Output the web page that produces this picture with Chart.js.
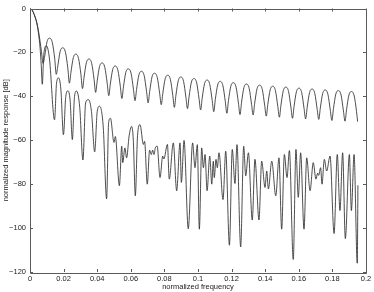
<!DOCTYPE html>
<html><head><meta charset="utf-8">
<script src="https://cdn.jsdelivr.net/npm/chart.js@4/dist/chart.umd.min.js"></script>
<style>html,body{margin:0;padding:0;background:#fff;overflow:hidden}</style>
</head><body>
<canvas id="c" width="374" height="292"></canvas>
<script>
const xTickValues = [0, 0.02, 0.04, 0.06, 0.08, 0.1, 0.12, 0.14, 0.16, 0.18, 0.2];
const yTickValues = [-120, -100, -80, -60, -40, -20, 0];
const xTitle = 'normalized frequency';
const yTitle = 'normalized magnitude response [dB]';

// upper curve (sidelobe arches)
const upperFreq = [
  0, 0.001, 0.002, 0.003, 0.004, 0.005, 0.006, 0.0068,
  0.00781, 0.00875, 0.01015, 0.01172, 0.01328, 0.01469,
  0.01563, 0.01656, 0.01797, 0.01953, 0.02109, 0.0225,
  0.02344, 0.02438, 0.02578, 0.02734, 0.02891, 0.03031,
  0.03125, 0.03219, 0.03359, 0.03516, 0.03672, 0.03813,
  0.03906, 0.04, 0.0414, 0.04297, 0.04453, 0.04594,
  0.04688, 0.04781, 0.04922, 0.05078, 0.05234, 0.05375,
  0.05469, 0.05563, 0.05703, 0.05859, 0.06016, 0.06156,
  0.0625, 0.06344, 0.06484, 0.06641, 0.06797, 0.06938,
  0.07031, 0.07125, 0.07265, 0.07422, 0.07578, 0.07719,
  0.07813, 0.07906, 0.08047, 0.08203, 0.08359, 0.085,
  0.08594, 0.08688, 0.08828, 0.08984, 0.09141, 0.09281,
  0.09375, 0.09469, 0.09609, 0.09766, 0.09922, 0.10063,
  0.10156, 0.1025, 0.1039, 0.10547, 0.10703, 0.10844,
  0.10938, 0.11031, 0.11172, 0.11328, 0.11484, 0.11625,
  0.11719, 0.11813, 0.11953, 0.12109, 0.12266, 0.12406,
  0.125, 0.12594, 0.12734, 0.12891, 0.13047, 0.13188,
  0.13281, 0.13375, 0.13515, 0.13672, 0.13828, 0.13969,
  0.14063, 0.14156, 0.14297, 0.14453, 0.14609, 0.1475,
  0.14844, 0.14938, 0.15078, 0.15234, 0.15391, 0.15531,
  0.15625, 0.15719, 0.15859, 0.16016, 0.16172, 0.16313,
  0.16406, 0.165, 0.1664, 0.16797, 0.16953, 0.17094,
  0.17188, 0.17281, 0.17422, 0.17578, 0.17734, 0.17875,
  0.17969, 0.18063, 0.18203, 0.18359, 0.18516, 0.18656,
  0.1875, 0.18844, 0.18984, 0.19141, 0.19297, 0.19438,
  0.195
];
const upperDb = [
  0, -0.5, -1.8, -3.8, -6.3, -10, -15, -19.5,
  -25, -21.7, -15.1, -13.5, -15.5, -22.7,
  -30, -26.1, -19.5, -17.9, -19.9, -27.1,
  -34, -29.0, -22.4, -20.8, -22.8, -30.0,
  -36.5, -31.2, -24.6, -23.0, -25.0, -32.2,
  -38.2, -33.0, -26.4, -24.8, -26.8, -34.0,
  -39.7, -34.4, -27.8, -26.2, -28.2, -35.4,
  -41, -35.7, -29.1, -27.5, -29.5, -36.7,
  -42, -36.8, -30.2, -28.6, -30.6, -37.8,
  -43, -37.7, -31.1, -29.5, -31.5, -38.7,
  -43.8, -38.6, -32.0, -30.4, -32.4, -39.6,
  -45, -39.4, -32.8, -31.2, -33.2, -40.4,
  -45.6, -40.1, -33.5, -31.9, -33.9, -41.1,
  -46.2, -40.8, -34.2, -32.6, -34.6, -41.8,
  -47, -41.4, -34.8, -33.2, -35.2, -42.4,
  -47.7, -42.0, -35.4, -33.8, -35.8, -43.0,
  -48.3, -42.6, -36.0, -34.4, -36.4, -43.6,
  -48.5, -43.1, -36.5, -34.9, -36.9, -44.1,
  -49, -43.6, -37.0, -35.4, -37.4, -44.6,
  -49.5, -44.0, -37.4, -35.8, -37.8, -45.0,
  -50, -44.5, -37.9, -36.3, -38.3, -45.5,
  -50.3, -44.9, -38.3, -36.7, -38.7, -45.9,
  -50.5, -45.3, -38.7, -37.1, -39.1, -46.3,
  -51, -45.6, -39.0, -37.4, -39.4, -46.6,
  -51.3, -46.0, -39.4, -37.8, -39.8, -47.0,
  -51.5
];

// lower curve (irregular response)
const lowerFreq = [
  0, 0.001, 0.002, 0.003, 0.004, 0.005, 0.006, 0.0067, 0.0073, 0.0082,
  0.0098, 0.0116, 0.0146, 0.0158, 0.017, 0.0184, 0.0199, 0.0213, 0.0226, 0.0239,
  0.0252, 0.0265, 0.0277, 0.0296, 0.0315, 0.0331, 0.0348, 0.0366, 0.0385, 0.04,
  0.0414, 0.0436, 0.0456, 0.0468, 0.0479, 0.05, 0.0508, 0.0532, 0.0546, 0.0552,
  0.0565, 0.0575, 0.059, 0.0605, 0.0615, 0.0627, 0.064, 0.0655, 0.0675, 0.0682,
  0.0698, 0.0712, 0.0722, 0.073, 0.0738, 0.0746, 0.0757, 0.0774, 0.079, 0.0797,
  0.0818, 0.0829, 0.0853, 0.0873, 0.0893, 0.0901, 0.0917, 0.0942, 0.0968, 0.0982,
  0.0996, 0.1008, 0.1022, 0.1032, 0.1042, 0.1054, 0.107, 0.1082, 0.1091, 0.1097,
  0.1107, 0.1115, 0.1125, 0.1149, 0.1165, 0.1187, 0.1204, 0.122, 0.1232, 0.1254,
  0.1272, 0.1284, 0.13, 0.1323, 0.1339, 0.1363, 0.1379, 0.1399, 0.1409, 0.1419,
  0.1439, 0.1463, 0.1482, 0.1498, 0.1514, 0.153, 0.1544, 0.1567, 0.1583, 0.1597,
  0.1611, 0.1631, 0.1647, 0.1667, 0.1686, 0.1702, 0.1712, 0.1718, 0.173, 0.1738,
  0.1752, 0.1766, 0.1786, 0.181, 0.1829, 0.1845, 0.1861, 0.1877, 0.1901, 0.1913,
  0.1929, 0.1948, 0.1952
];
const lowerDb = [
  0, -0.5, -1.8, -3.8, -6.5, -11, -18, -26, -34.5, -21,
  -17, -23, -50.7, -34, -31.6, -37, -57.5, -40, -37.5, -42,
  -59.7, -40, -37.6, -45, -69, -43, -41.5, -47, -65.3, -47,
  -44.5, -54, -86.7, -52, -50, -61, -58.3, -80.7, -62.7, -70.2,
  -63.5, -68, -58, -53.7, -60, -85.3, -58, -52.9, -61.9, -60.5,
  -80, -64.5, -66.5, -64.5, -66.5, -63.5, -62.7, -77, -67.2, -68.5,
  -61.9, -77.7, -61.2, -83, -61.2, -79.2, -60.1, -100.3, -61.2, -72.5,
  -62, -100.5, -63.5, -72.5, -66.5, -83, -67.2, -80, -69.6, -77,
  -68.7, -72.5, -65.7, -87, -65, -107.8, -64.2, -79.7, -62, -108.6,
  -62.7, -76.2, -65.7, -96.3, -68.7, -96.3, -69.5, -81.5, -74, -82.2,
  -69.5, -85.3, -68, -100.5, -66.5, -77, -64.7, -114.3, -64.2, -86,
  -65.7, -100.5, -68, -83, -70.2, -77.7, -75, -76, -72.5, -80,
  -68.7, -74, -67.2, -102.5, -66.5, -92, -65.7, -104.8, -66.5, -92,
  -66.5, -116, -80.5
];

const FONT = '"Liberation Sans", Arial, Helvetica, sans-serif';
const toPts = (xs, ys) => xs.map((x, i) => ({x: x, y: ys[i]}));

const boxPlugin = {
  id: 'box',
  afterDatasetsDraw(chart) {
    const {ctx, chartArea: a, scales: {x, y}} = chart;
    ctx.save();
    ctx.strokeStyle = '#5a5a5a';
    ctx.lineWidth = 1;
    ctx.beginPath();
    ctx.rect(Math.round(a.left) + 0.5, Math.round(a.top) + 0.5,
             Math.round(a.right - a.left), Math.round(a.bottom - a.top));
    const L = 3;
    xTickValues.forEach(v => {
      const px = Math.round(x.getPixelForValue(v)) + 0.5;
      ctx.moveTo(px, a.bottom); ctx.lineTo(px, a.bottom - L);
      ctx.moveTo(px, a.top); ctx.lineTo(px, a.top + L);
    });
    yTickValues.forEach(v => {
      const py = Math.round(y.getPixelForValue(v)) + 0.5;
      ctx.moveTo(a.left, py); ctx.lineTo(a.left + L, py);
      ctx.moveTo(a.right, py); ctx.lineTo(a.right - L, py);
    });
    ctx.stroke();
    ctx.restore();
  }
};

new Chart(document.getElementById('c'), {
  type: 'line',
  data: {
    datasets: [
      {data: toPts(upperFreq, upperDb), borderColor: '#2e2e2e', borderWidth: 0.85,
       pointRadius: 0, cubicInterpolationMode: 'monotone', fill: false},
      {data: toPts(lowerFreq, lowerDb), borderColor: '#2e2e2e', borderWidth: 0.85,
       pointRadius: 0, cubicInterpolationMode: 'monotone', fill: false}
    ]
  },
  options: {
    responsive: false,
    animation: false,
    devicePixelRatio: 1,
    layout: {padding: {top: 6, right: 8, left: 0, bottom: 0}},
    plugins: {legend: {display: false}, tooltip: {enabled: false}},
    scales: {
      x: {
        type: 'linear', min: 0, max: 0.2,
        afterBuildTicks: s => { s.ticks = xTickValues.map(v => ({value: v})); },
        afterFit: s => { s.height = 20; },
        grid: {display: false, drawTicks: false},
        border: {display: false},
        ticks: {padding: 2, maxRotation: 0, autoSkip: false, color: '#222',
                font: {family: FONT, size: 7.5},
                callback: v => String(Number(Number(v).toFixed(2)))},
        title: {display: true, text: xTitle, color: '#222',
                font: {family: FONT, size: 7.5}, padding: {top: 0, bottom: 1}}
      },
      y: {
        type: 'linear', min: -120, max: 0,
        afterBuildTicks: s => { s.ticks = yTickValues.map(v => ({value: v})); },
        afterFit: s => { s.width = 30; },
        grid: {display: false, drawTicks: false},
        border: {display: false},
        ticks: {padding: 4, color: '#222', font: {family: FONT, size: 7.5},
                callback: v => v < 0 ? '\u2212' + Math.abs(v) : String(v)},
        title: {display: true, text: yTitle, color: '#222',
                font: {family: FONT, size: 7.5}, padding: {top: 1.5, bottom: 0}}
      }
    }
  },
  plugins: [boxPlugin]
});
</script>
</body></html>
